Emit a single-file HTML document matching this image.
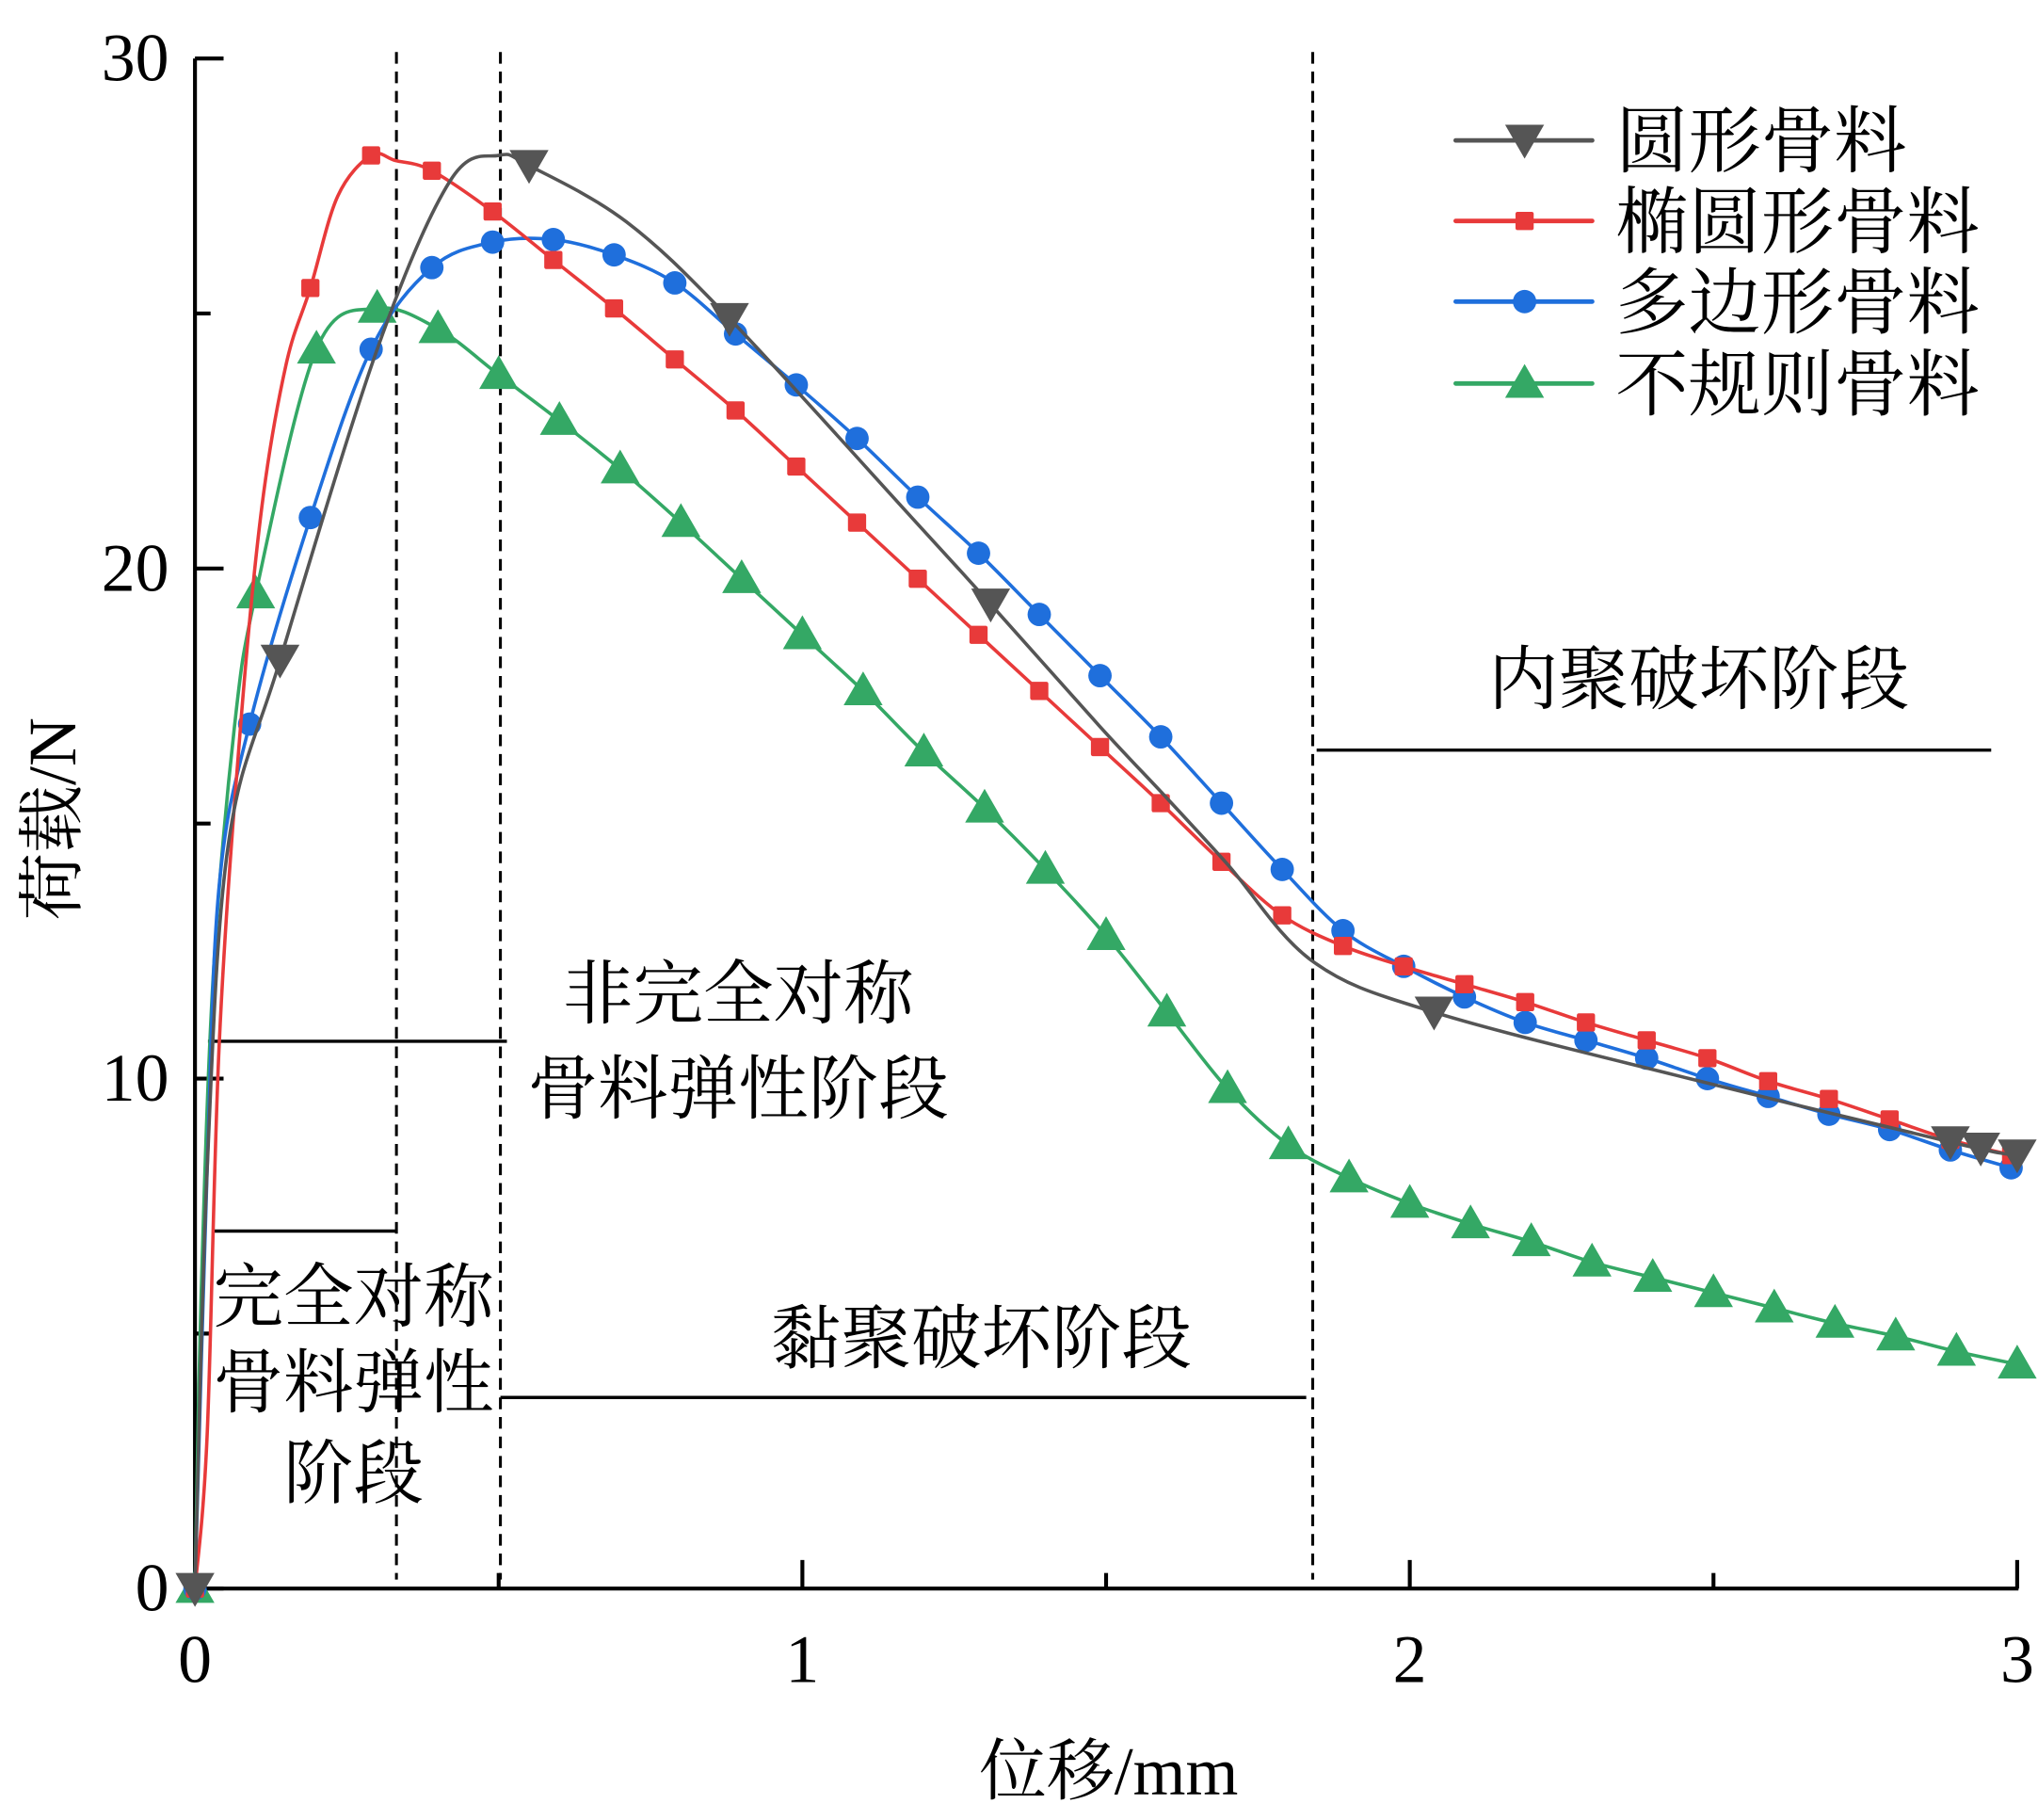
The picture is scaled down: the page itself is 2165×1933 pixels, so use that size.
<!DOCTYPE html>
<html><head><meta charset="utf-8"><style>
html,body{margin:0;padding:0;background:#fff;}
svg{display:block;}
text{font-family:"Liberation Serif","Noto Serif CJK SC",serif;fill:#000;}
</style></head><body>
<svg id="chart" width="2165" height="1933" viewBox="0 0 1568 1400" xmlns="http://www.w3.org/2000/svg">
<g id="annot"></g>
<g id="axes"></g>
<g id="series"></g>
<g id="legend"></g>
</svg>
<script>
const xTicks=[0,1,2,3];
const yTicks=[0,10,20,30];
const seriesNames=["圆形骨料","椭圆形骨料","多边形骨料","不规则骨料"];
const grayX=[0,0.02,0.055,0.14,0.3,0.42,0.5,0.55,0.71,0.88,1.18,1.31,1.49,1.6,1.7,1.84,2.04,2.46,2.91,3.0];
const grayY=[0,8.2,14.6,18.2,24.3,27.6,28.1,27.9,26.8,24.9,21.0,19.3,16.9,15.5,14.2,12.3,11.3,10.0,8.7,8.5];
const grayMX=[0,0.14,0.55,0.88,1.31,2.04,2.89,2.94,3.0];
const redX=[0,0.02,0.04,0.075,0.11,0.15,0.19,0.235,0.29,0.33,0.39,0.49,0.59,0.69,0.79,0.89,0.99,1.09,1.19,1.29,1.39,1.49,1.59,1.69,1.79,1.89,1.99,2.09,2.19,2.29,2.39,2.49,2.59,2.69,2.79,2.89,2.99];
const redY=[0,3,10.7,16.9,21.2,24,25.5,27.3,28.1,28.0,27.8,27.0,26.05,25.1,24.1,23.1,22.0,20.9,19.8,18.7,17.6,16.5,15.4,14.25,13.2,12.6,12.2,11.85,11.5,11.1,10.75,10.4,9.95,9.6,9.2,8.8,8.5];
const blueX=[0,0.02,0.04,0.09,0.19,0.29,0.39,0.49,0.59,0.69,0.79,0.89,0.99,1.09,1.19,1.29,1.39,1.49,1.59,1.69,1.79,1.89,1.99,2.09,2.19,2.29,2.39,2.49,2.59,2.69,2.79,2.89,2.99];
const blueY=[0,8.2,13.8,16.95,21,24.3,25.9,26.4,26.45,26.15,25.6,24.6,23.6,22.55,21.4,20.3,19.1,17.9,16.7,15.4,14.1,12.9,12.2,11.6,11.1,10.75,10.4,10.0,9.65,9.3,9.0,8.6,8.25];
const greenX=[0,0.01,0.03,0.065,0.1,0.2,0.3,0.4,0.5,0.6,0.7,0.8,0.9,1.0,1.1,1.2,1.3,1.4,1.5,1.6,1.7,1.8,1.9,2.0,2.1,2.2,2.3,2.4,2.5,2.6,2.7,2.8,2.9,3.0];
const greenY=[0,5.7,12,16.9,19.5,24.3,25.1,24.7,23.8,22.9,21.95,20.9,19.8,18.7,17.6,16.4,15.3,14.1,12.8,11.3,9.8,8.7,8.05,7.55,7.15,6.8,6.4,6.1,5.8,5.5,5.2,4.95,4.65,4.4];

const X0=150,X1=1552,Y0=1222,Y1=45;
const sx=v=>X0+(X1-X0)*v/3;
const sy=v=>Y0-(Y0-Y1)*v/30;
const NS="http://www.w3.org/2000/svg";
function mk(tag,parent,attrs){const e=document.createElementNS(NS,tag);for(const k in attrs)e.setAttribute(k,attrs[k]);parent.appendChild(e);return e;}
function interp(xs,ys,x){for(let i=0;i<xs.length-1;i++){if(x>=xs[i]&&x<=xs[i+1]){const t=(x-xs[i])/(xs[i+1]-xs[i]||1);return ys[i]+t*(ys[i+1]-ys[i]);}}return ys[ys.length-1];}
function smooth(xs,ys){const p=xs.map((x,i)=>[sx(x),sy(ys[i])]);let d="M"+p[0][0]+","+p[0][1];
for(let i=0;i<p.length-1;i++){const a=p[Math.max(0,i-1)],b=p[i],c=p[i+1],e=p[Math.min(p.length-1,i+2)];
const c1=[b[0]+(c[0]-a[0])/6,b[1]+(c[1]-a[1])/6],c2=[c[0]-(e[0]-b[0])/6,c[1]-(e[1]-b[1])/6];
d+=` C${c1[0]},${c1[1]} ${c2[0]},${c2[1]} ${c[0]},${c[1]}`;}return d;}
function marker(g,type,x,y,color){
 if(type==="down")return mk("path",g,{d:`M${x-15},${y-12} L${x+15},${y-12} L${x},${y+14} Z`,fill:color,"stroke-linejoin":"round"});
 if(type==="up")return mk("path",g,{d:`M${x},${y-15} L${x+15},${y+11} L${x-15},${y+11} Z`,fill:color});
 if(type==="square")return mk("rect",g,{x:x-7,y:y-7,width:14,height:14,rx:1.5,fill:color});
 return mk("circle",g,{cx:x,cy:y,r:9,fill:color});
}
const A=document.getElementById("annot"),AX=document.getElementById("axes"),S=document.getElementById("series"),L=document.getElementById("legend");

[305,385,1010].forEach((x,i)=>{const l=mk("line",A,{x1:x,y1:40,x2:x,y2:1215,stroke:"#000","stroke-width":2.2,"stroke-dasharray":"9,6"});

});
[[160,390,801],[165,305,947],[385,1005,1075],[1013,1532,577]].forEach((h,i)=>{const l=mk("line",A,{x1:h[0],y1:h[2],x2:h[1],y2:h[2],stroke:"#000","stroke-width":2.5});

});
[["非完全对称",568,783,"asym-elastic-label-1"],["骨料弹性阶段",568,856,"asym-elastic-label-2"],["完全对称",272,1016,"sym-elastic-label-1"],["骨料弹性",272,1082,"sym-elastic-label-2"],["阶段",272,1152,"sym-elastic-label-3"],["黏聚破坏阶段",755,1048,"adhesive-failure-label"],["内聚破坏阶段",1307,541,"cohesive-failure-label"]].forEach(t=>{
 const e=mk("text",A,{x:t[1],y:t[2],"text-anchor":"middle","font-size":54});e.textContent=t[0];
 
 });

let ax=mk("line",AX,{x1:X0,y1:Y1,x2:X0,y2:Y0+1,stroke:"#000","stroke-width":3});


ax=mk("line",AX,{x1:X0-1,y1:Y0,x2:X1+1,y2:Y0,stroke:"#000","stroke-width":3});


yTicks.forEach(v=>{mk("line",AX,{x1:X0,y1:sy(v),x2:X0+22,y2:sy(v),stroke:"#000","stroke-width":3});
 const t=mk("text",AX,{x:X0-20,y:sy(v)+17,"text-anchor":"end","font-size":52});t.textContent=v;
 
 });
[5,15,25].forEach(v=>mk("line",AX,{x1:X0,y1:sy(v),x2:X0+12,y2:sy(v),stroke:"#000","stroke-width":3}));
xTicks.forEach(v=>{mk("line",AX,{x1:sx(v),y1:Y0,x2:sx(v),y2:Y0-22,stroke:"#000","stroke-width":3});
 const t=mk("text",AX,{x:sx(v),y:Y0+72,"text-anchor":"middle","font-size":52});t.textContent=v;
 
 });
[0.5,1.5,2.5].forEach(v=>mk("line",AX,{x1:sx(v),y1:Y0,x2:sx(v),y2:Y0-12,stroke:"#000","stroke-width":3}));
let xt=mk("text",AX,{x:853,y:1380,"text-anchor":"middle","font-size":52});xt.textContent="位移/mm";


let yt=mk("text",AX,{x:0,y:0,"text-anchor":"middle","font-size":52,transform:"translate(58,630) rotate(-90)"});yt.textContent="荷载/N";



const cfg=[
 {xs:grayX,ys:grayY,mx:grayMX,c:"#555555",m:"down",w:2.6,n:"round-aggregate"},
 {xs:redX,ys:redY,mx:[],c:"#e83a3a",m:"square",w:2.6,n:"ellipse-aggregate"},
 {xs:blueX,ys:blueY,mx:[0].concat(blueX.slice(3)),c:"#1f6fdc",m:"circle",w:2.6,n:"polygon-aggregate"},
 {xs:greenX,ys:greenY,mx:[0].concat(greenX.slice(4)),c:"#34a865",m:"up",w:2.6,n:"irregular-aggregate"}];
cfg[1].mx=[0].concat(redX.filter((x,i)=>i>=6&&i!==7&&i!==9));
[3,2,1,0].forEach(k=>{const s=cfg[k];const g=mk("g",S,{});
 
 
 const p=mk("path",g,{d:smooth(s.xs,s.ys),fill:"none",stroke:s.c,"stroke-width":s.w});
 
 
 s.mx.forEach(x=>{const m=marker(g,s.m,sx(x),sy(interp(s.xs,s.ys,x)),s.c);
  
  });});

[108,170,232,295].forEach((y,i)=>{const s=cfg[i];const g=mk("g",L,{});
 
 
 mk("line",g,{x1:1120,y1:y,x2:1225,y2:y,stroke:s.c,"stroke-width":3.5,"stroke-linecap":"round"});
 marker(g,s.m,1173,y,s.c);
 const t=mk("text",g,{x:1243,y:y+20,"font-size":56});t.textContent=seriesNames[i];});
</script>
</body></html>
